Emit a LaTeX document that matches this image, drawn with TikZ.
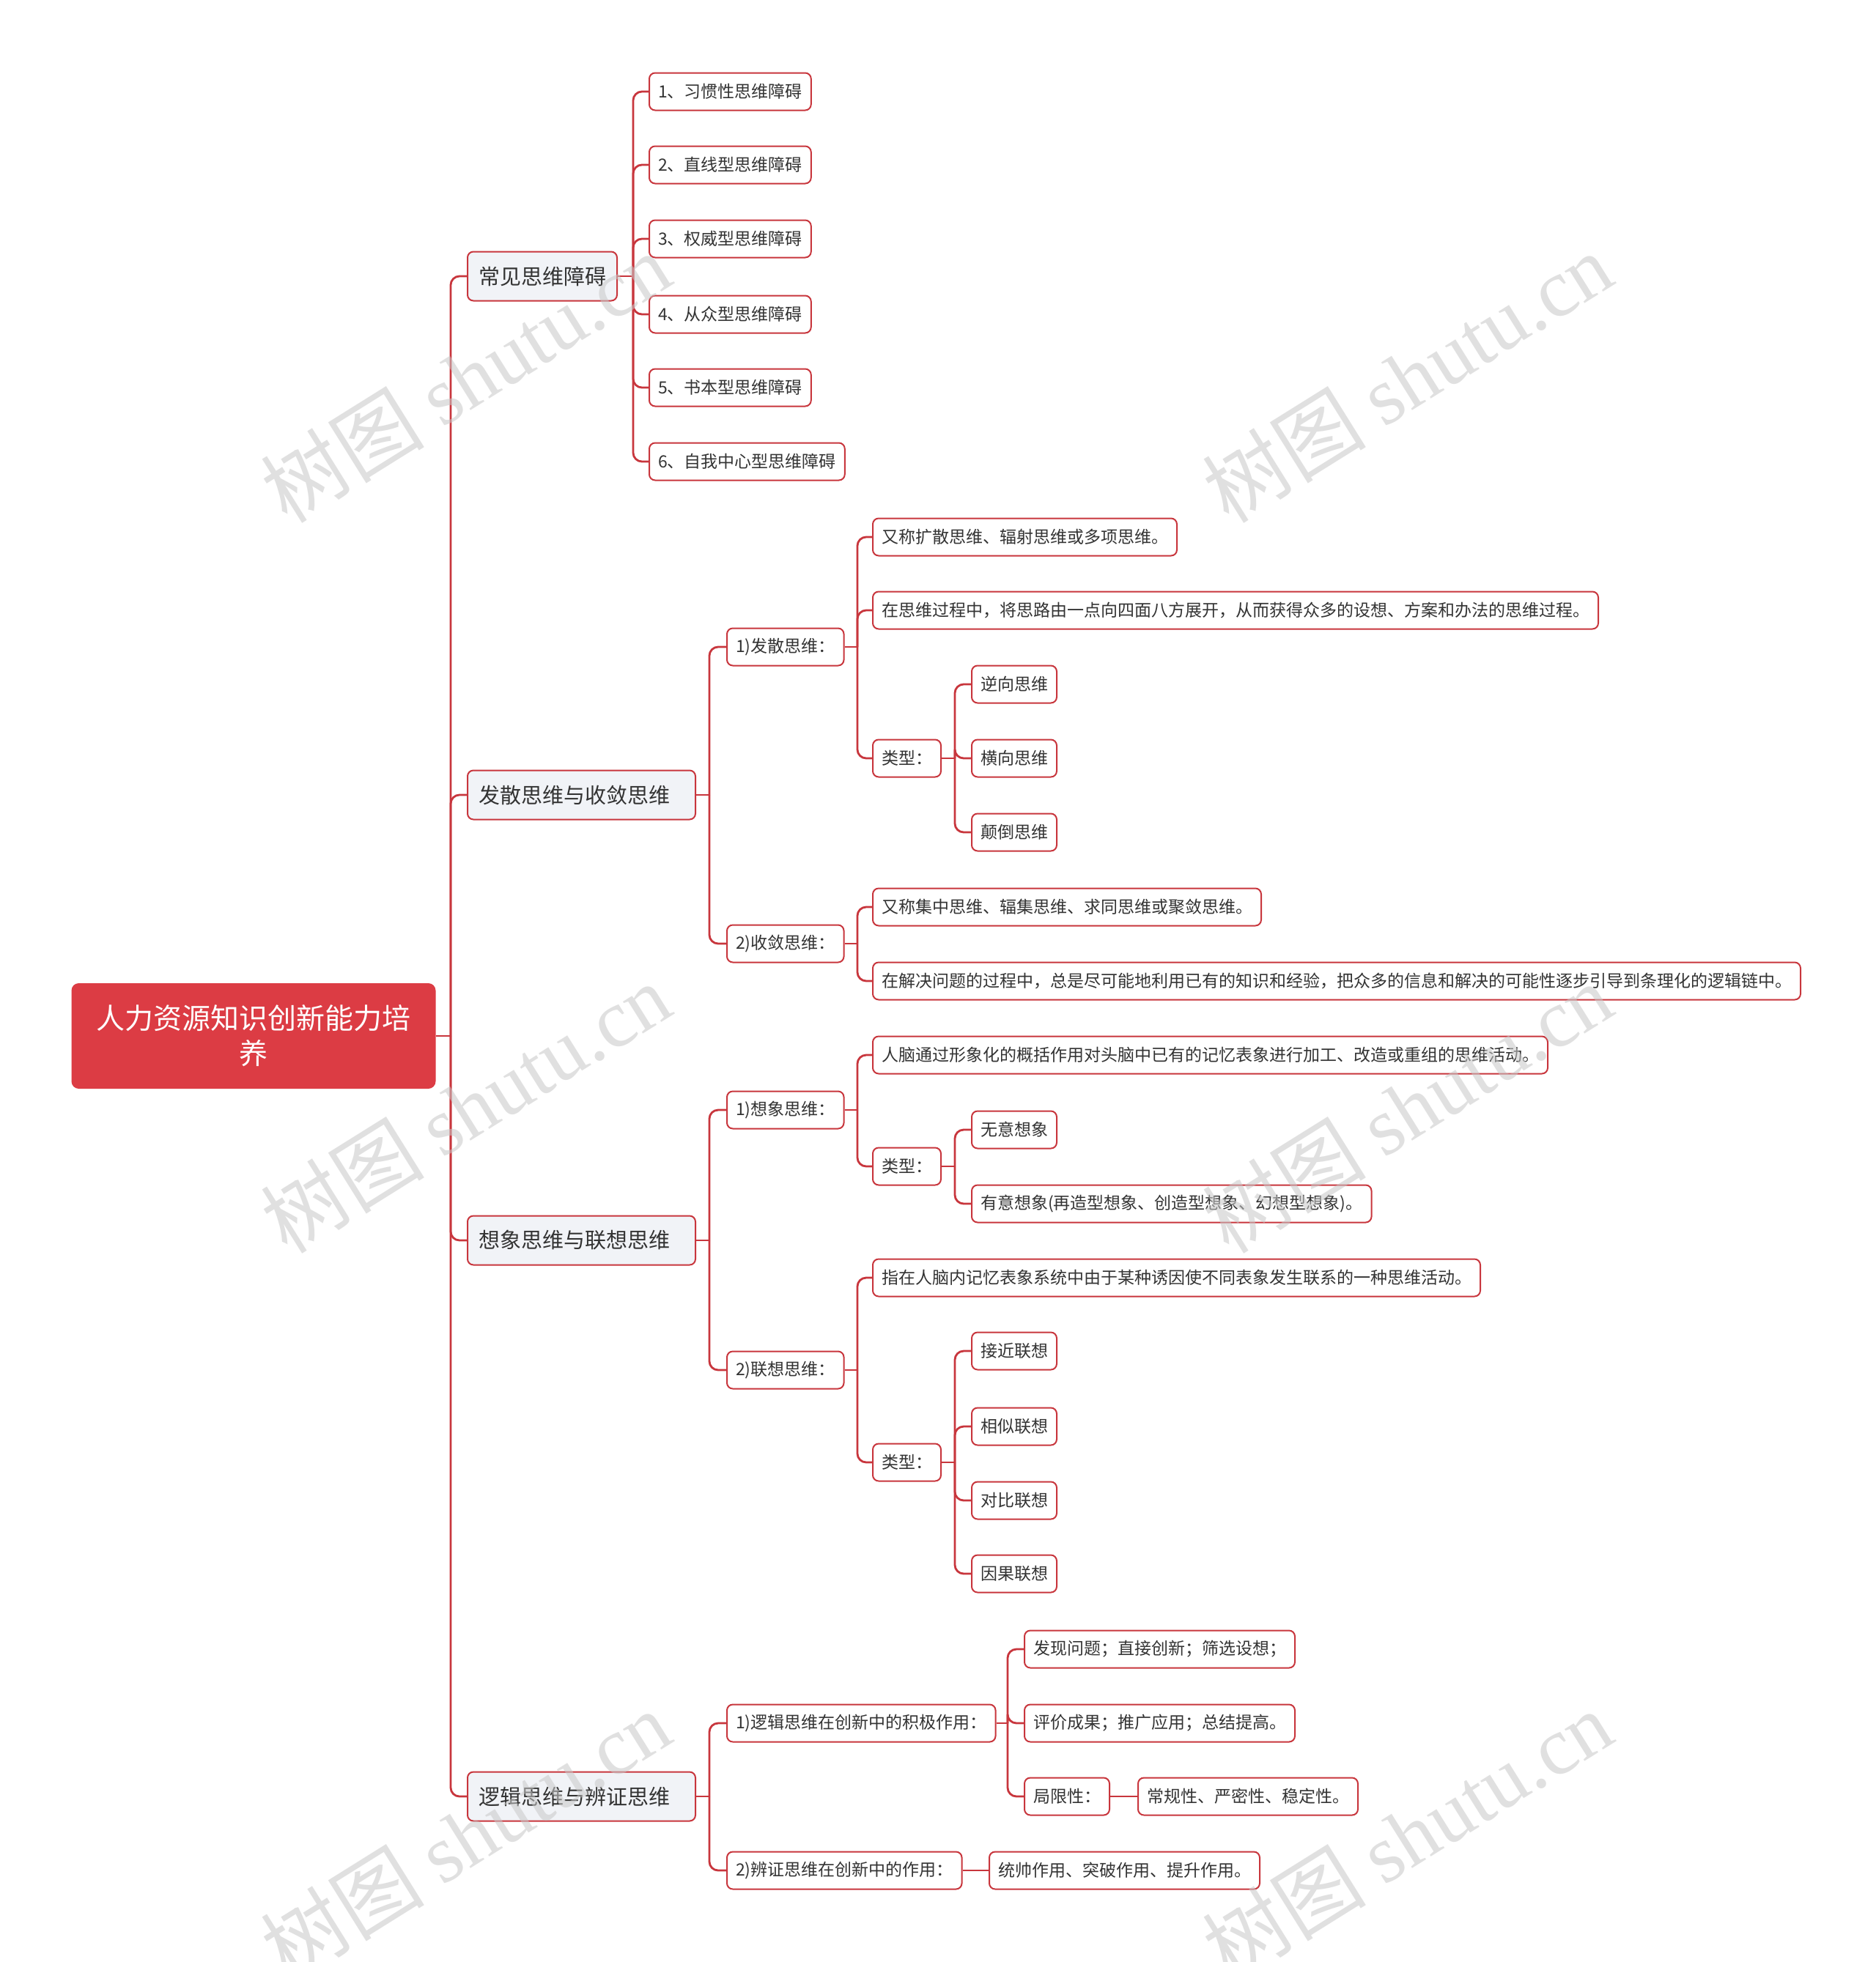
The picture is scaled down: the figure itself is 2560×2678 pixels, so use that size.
\documentclass[tikz,border=0pt]{standalone}
\usepackage{fontspec}
\setmainfont{Noto Sans CJK SC}
\newfontfamily\wmcjk{Noto Sans CJK SC}
\newfontfamily\wmlat{Liberation Serif}
\definecolor{lc}{HTML}{C8363D}
\definecolor{rootc}{HTML}{DC3C44}
\definecolor{lonefill}{HTML}{F1F3F7}
\definecolor{txt}{HTML}{333333}
\definecolor{wmc}{HTML}{C8C8C8}
\newcommand\fan[3]{%
  \coordinate (vx) at (#2,0);
  \draw[conn] (#1.east) -- (#1.east -| vx);
  \foreach \c in {#3} { \draw[conn] (#1.east -| vx) |- (\c.west); }
}
\begin{document}
\begin{tikzpicture}[x=0.5pt,y=-0.5pt,
  leaf/.style={draw=lc, line width=1pt, fill=white, rounded corners=4pt, minimum height=25.5pt,
    inner xsep=6pt, inner ysep=0pt, font=\fontsize{11.5}{14}\selectfont, text=txt, anchor=west},
  lone/.style={leaf, fill=lonefill, minimum height=33.5pt, inner xsep=7.5pt, font=\fontsize{14.5}{18}\selectfont},
  lwide/.style={lone, text width=140.5pt, align=left},
  rootbox/.style={fill=rootc, draw=none, rounded corners=5pt, minimum width=248.5pt, minimum height=72pt,
    text=white, align=center, font=\fontsize{19.5}{24}\selectfont},
  conn/.style={draw=lc, line width=1.4pt, rounded corners=6pt},
  wm/.style={text=wmc, opacity=0.55, rotate=32, font=\fontsize{56}{60}\selectfont}]
\useasboundingbox (0,0) rectangle (2560,2678);
\fill[white] (0,0) rectangle (2560,2678);

\node[rootbox] (root) at (346,1414) {人力资源知识创新能力培\\养};

\node[lone] (c1) at (637,377) {常见思维障碍};
\node[lwide] (c2) at (637,1085) {发散思维与收敛思维};
\node[lwide] (c3) at (637,1693) {想象思维与联想思维};
\node[lwide] (c4) at (637,2452) {逻辑思维与辨证思维};

\node[leaf] (h1) at (885,125) {1、习惯性思维障碍};
\node[leaf] (h2) at (885,225) {2、直线型思维障碍};
\node[leaf] (h3) at (885,326) {3、权威型思维障碍};
\node[leaf] (h4) at (885,429) {4、从众型思维障碍};
\node[leaf] (h5) at (885,529) {5、书本型思维障碍};
\node[leaf] (h6) at (885,630) {6、自我中心型思维障碍};

\node[leaf] (fs1) at (991,883) {1)发散思维：};
\node[leaf] (fs2) at (991,1288) {2)收敛思维：};
\node[leaf] (a1) at (1190,733) {又称扩散思维、辐射思维或多项思维。};
\node[leaf] (a2) at (1190,833) {在思维过程中，将思路由一点向四面八方展开，从而获得众多的设想、方案和办法的思维过程。};
\node[leaf] (a3) at (1190,1035) {类型：};
\node[leaf] (a31) at (1325,934) {逆向思维};
\node[leaf] (a32) at (1325,1035) {横向思维};
\node[leaf] (a33) at (1325,1136) {颠倒思维};
\node[leaf] (b1) at (1190,1238) {又称集中思维、辐集思维、求同思维或聚敛思维。};
\node[leaf] (b2) at (1190,1339) {在解决问题的过程中，总是尽可能地利用已有的知识和经验，把众多的信息和解决的可能性逐步引导到条理化的逻辑链中。};

\node[leaf] (xx1) at (991,1515) {1)想象思维：};
\node[leaf] (xx2) at (991,1870) {2)联想思维：};
\node[leaf] (d1) at (1190,1440) {人脑通过形象化的概括作用对头脑中已有的记忆表象进行加工、改造或重组的思维活动。};
\node[leaf] (d2) at (1190,1592) {类型：};
\node[leaf] (d21) at (1325,1542) {无意想象};
\node[leaf] (d22) at (1325,1643) {有意想象(再造型想象、创造型想象、幻想型想象)。};
\node[leaf] (e1) at (1190,1744) {指在人脑内记忆表象系统中由于某种诱因使不同表象发生联系的一种思维活动。};
\node[leaf] (e2) at (1190,1996) {类型：};
\node[leaf] (e21) at (1325,1844) {接近联想};
\node[leaf] (e22) at (1325,1947) {相似联想};
\node[leaf] (e23) at (1325,2048) {对比联想};
\node[leaf] (e24) at (1325,2148) {因果联想};

\node[leaf] (lj1) at (991,2352) {1)逻辑思维在创新中的积极作用：};
\node[leaf] (lj2) at (991,2553) {2)辨证思维在创新中的作用：};
\node[leaf] (f1) at (1397,2251) {发现问题；直接创新；筛选设想；};
\node[leaf] (f2) at (1397,2352) {评价成果；推广应用；总结提高。};
\node[leaf] (f3) at (1397,2452) {局限性：};
\node[leaf] (f31) at (1552,2452) {常规性、严密性、稳定性。};
\node[leaf] (g1) at (1349,2553) {统帅作用、突破作用、提升作用。};

\fan{root}{615}{c1,c2,c3,c4}
\fan{c1}{864}{h1,h2,h3,h4,h5,h6}
\fan{c2}{968}{fs1,fs2}
\fan{c3}{968}{xx1,xx2}
\fan{c4}{968}{lj1,lj2}
\fan{fs1}{1170}{a1,a2,a3}
\fan{a3}{1303}{a31,a32,a33}
\fan{fs2}{1170}{b1,b2}
\fan{xx1}{1170}{d1,d2}
\fan{d2}{1303}{d21,d22}
\fan{xx2}{1170}{e1,e2}
\fan{e2}{1303}{e21,e22,e23,e24}
\fan{lj1}{1375}{f1,f2,f3}
\draw[conn] (f3.east) -- (f31.west);
\draw[conn] (lj2.east) -- (g1.west);

\foreach \p [count=\i] in {(635,515),(1920,515),(635,1512),(1920,1512),(635,2505),(1920,2505)}
  \node[wm] (wm\i) at \p {{\wmcjk 树图} {\wmlat shutu.cn}};
\end{tikzpicture}
\end{document}
